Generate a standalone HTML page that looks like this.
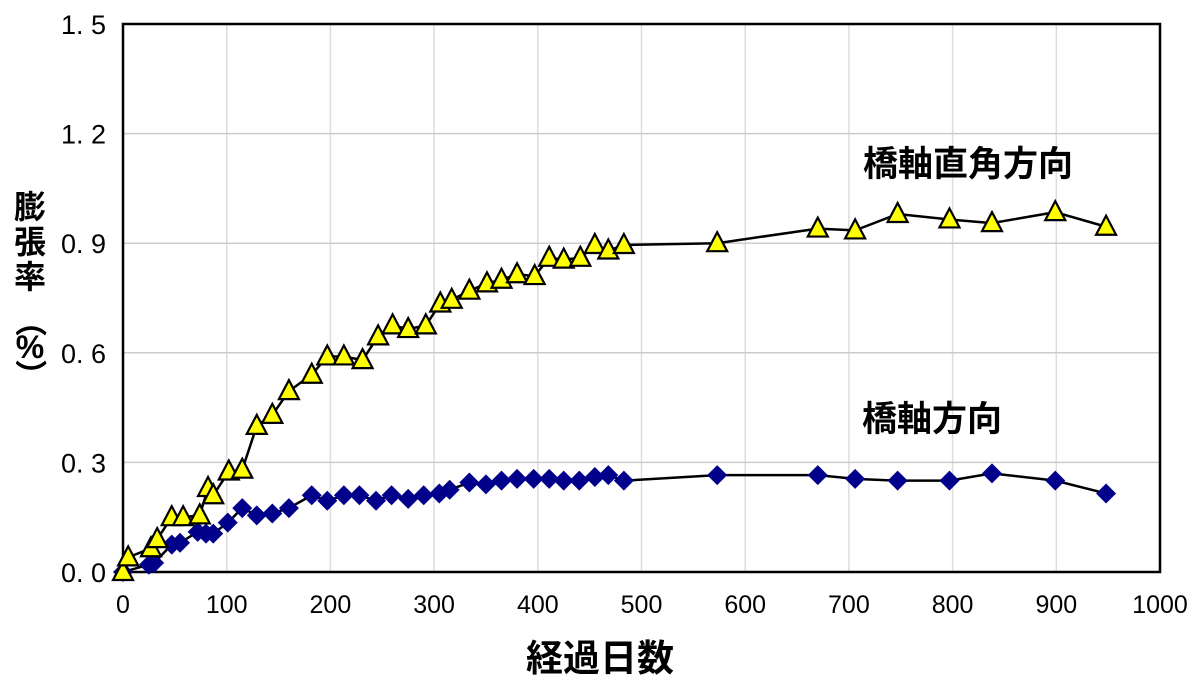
<!DOCTYPE html>
<html><head><meta charset="utf-8"><style>
body{margin:0;background:#fff;}
svg text{font-family:"Liberation Sans","Noto Sans CJK JP",sans-serif;}
</style></head><body>
<svg width="1200" height="684">
<g id="grid"></g>
<rect x="123" y="24" width="1037" height="548" fill="none" stroke="#000" stroke-width="2.5"/>
<g id="ticks"></g>
<g id="series"></g>
<text x="968" y="176" font-size="35" font-weight="bold" text-anchor="middle">橋軸直角方向</text>
<text x="932" y="431" font-size="35" font-weight="bold" text-anchor="middle">橋軸方向</text>
<text x="600" y="671" font-size="37" font-weight="bold" text-anchor="middle">経過日数</text>
<g font-size="32" font-weight="bold" text-anchor="middle">
<text x="30" y="218">膨</text><text x="30" y="253">張</text><text x="30" y="288">率</text>
<text x="30" y="332" transform="rotate(90 30 321)">（</text>
<text x="30" y="358">%</text>
<text x="30" y="386" transform="rotate(90 30 375)">）</text>
</g>
</svg>
<script>
const xTicks=[0,100,200,300,400,500,600,700,800,900,1000];
const yTicks=[0,0.3,0.6,0.9,1.2,1.5];
const yLabels=["0. 0","0. 3","0. 6","0. 9","1. 2","1. 5"];
const transDays=[0,5,27,33,47,58,74,82,87,102,115,129,144,160,182,197,213,231,246,260,275,292,306,317,334,351,365,380,397,411,425,441,455,468,483,573,670,706,747,797,838,899,948];
const transVals=[0,0.04,0.065,0.09,0.15,0.15,0.155,0.23,0.21,0.275,0.28,0.40,0.43,0.495,0.54,0.59,0.59,0.58,0.645,0.675,0.665,0.675,0.735,0.745,0.77,0.79,0.80,0.815,0.81,0.86,0.855,0.86,0.895,0.88,0.895,0.90,0.94,0.935,0.98,0.965,0.955,0.985,0.945];
const axDays=[0,25,30,47,55,72,80,87,101,115,129,144,160,182,197,213,228,244,259,275,290,305,315,334,350,365,380,396,411,425,440,455,468,483,573,670,706,747,797,838,899,948];
const axVals=[0,0.02,0.025,0.075,0.08,0.11,0.105,0.105,0.135,0.175,0.155,0.16,0.175,0.21,0.195,0.21,0.21,0.195,0.21,0.2,0.21,0.215,0.225,0.245,0.24,0.25,0.255,0.255,0.255,0.25,0.25,0.26,0.265,0.25,0.265,0.265,0.255,0.25,0.25,0.27,0.25,0.215];
const X=d=>123+d*1.037, Y=v=>572-v*(548/1.5);
const NS="http://www.w3.org/2000/svg";
function mk(t,a,p){const e=document.createElementNS(NS,t);for(const k in a)e.setAttribute(k,a[k]);p.appendChild(e);return e;}
const grid=document.getElementById('grid'),ticks=document.getElementById('ticks'),ser=document.getElementById('series');
xTicks.forEach(t=>{const l=mk('line',{x1:X(t),x2:X(t),y1:24,y2:572,stroke:'#ddd','stroke-width':1.5},grid);


const tx=mk('text',{x:X(t),y:613,'font-size':25,'text-anchor':'middle'},ticks);tx.textContent=t;

});
yTicks.forEach((t,i)=>{const l=mk('line',{x1:123,x2:1160,y1:Y(t),y2:Y(t),stroke:'#ccc','stroke-width':1.5},grid);


const tx=mk('text',{x:106,y:Y(t)+10,'font-size':27,'text-anchor':'end'},ticks);tx.textContent=yLabels[i];

});
function line(ds,vs,name){const p=mk('polyline',{points:ds.map((d,i)=>X(d)+','+Y(vs[i])).join(' '),fill:'none',stroke:'#000','stroke-width':2.5},ser);

}
line(axDays,axVals,'axial-line');
line(transDays,transVals,'transverse-line');
axDays.forEach((d,i)=>{const x=X(d),y=Y(axVals[i]);
const m=mk('polygon',{points:`${x},${y-10} ${x+10},${y} ${x},${y+10} ${x-10},${y}`,fill:'#00008b'},ser);

});
transDays.forEach((d,i)=>{const x=X(d),y=Y(transVals[i]);
const m=mk('polygon',{points:`${x},${y-11} ${x+10},${y+8} ${x-10},${y+8}`,fill:'#ffff00',stroke:'#000','stroke-width':2.2},ser);

});
</script>
</body></html>
